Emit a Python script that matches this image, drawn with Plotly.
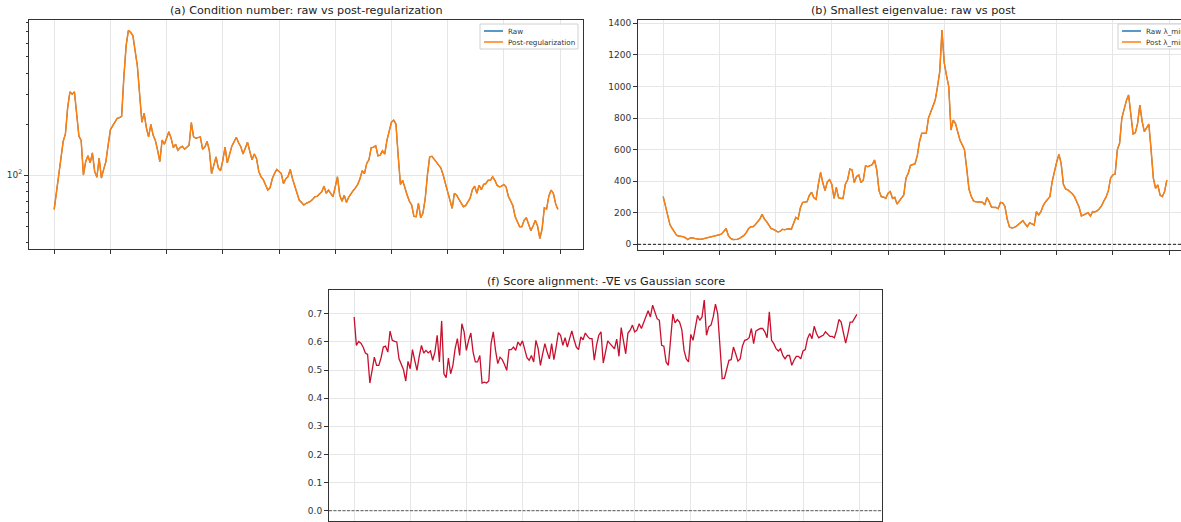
import numpy as np
import plotly.graph_objects as go

W, H = 1181, 522

# (a) condition number after regularization, one value per step (raw coincides with it)
cond_post = [
    62.7, 80, 100, 128, 158, 175, 250, 310, 300, 310, 230, 170, 160, 100, 120,
    130, 118, 135, 105, 97, 126, 96, 108, 120, 150, 185, 195, 205, 216, 218,
    222, 380, 580, 714, 695, 665, 520, 440, 300, 205, 232, 190, 168, 199, 172,
    160, 140, 120, 161, 152, 165, 180, 165, 145, 152, 140, 145, 148, 142, 146,
    150, 204, 168, 165, 166, 168, 142, 146, 158, 140, 102, 117, 128, 110, 106,
    122, 146, 118, 135, 148, 157, 167, 155, 147, 133, 145, 156, 138, 123, 133,
    125, 105, 97.7, 94, 88, 81.5, 84, 95, 102, 108, 105, 102, 89, 95, 98,
    108, 95, 86, 79.7, 71, 69, 66.5, 68, 69, 70, 72, 74.5, 75, 77, 79.7,
    86, 78, 81.5, 78, 74.5, 85, 97.7, 76, 70, 76, 69, 74, 78, 81, 84,
    88, 95, 106, 102, 117, 123, 145, 146, 149, 130, 131, 139, 133, 160, 185,
    205, 211, 200, 130, 88, 93, 83, 76, 70, 66.5, 57, 56.8, 68, 56, 59.4,
    72, 100, 128, 129, 124, 118, 114, 110, 100, 89, 78, 70, 63.6, 78, 76,
    72, 68, 65, 66, 69, 73, 82, 86, 78, 87, 82, 88, 89, 93, 93,
    97.7, 93, 87, 85, 86, 88, 85, 75, 70, 66, 57, 53, 49.5, 49.5, 54,
    56, 51, 47, 50, 54, 50, 42.2, 48, 64, 63, 75, 81.5, 78, 68, 62.7,
]
cond_raw = list(cond_post)

# (b) smallest eigenvalue after regularization (raw coincides with it)
lam_post = [
    302, 240, 185, 125, 100, 75, 57, 52, 50, 48, 40, 30, 40, 42, 37,
    33, 32, 32, 35, 38, 42, 45, 50, 53, 56, 60, 66, 82, 100, 55,
    38, 30, 30, 32, 38, 47, 57, 75, 100, 112, 112, 125, 140, 160, 190,
    160, 144, 120, 100, 95, 85, 78, 82, 95, 92, 96, 99, 95, 140, 170,
    160, 230, 265, 270, 270, 310, 330, 295, 285, 380, 455, 390, 340, 395, 410,
    380, 291, 361, 295, 291, 291, 380, 407, 477, 472, 391, 429, 439, 391, 407,
    498, 492, 498, 505, 534, 471, 340, 302, 300, 291, 323, 334, 291, 298, 255,
    275, 290, 312, 420, 450, 500, 505, 510, 560, 650, 703, 703, 703, 800, 835,
    870, 914, 998, 1094, 1357, 1150, 1070, 1000, 724, 787, 765, 715, 660, 630, 600,
    480, 350, 305, 275, 270, 270, 270, 266, 250, 296, 270, 236, 234, 234, 226,
    266, 262, 240, 160, 110, 104, 106, 114, 125, 133, 150, 129, 112, 137, 129,
    122, 207, 186, 207, 245, 268, 285, 302, 397, 470, 520, 570, 513, 380, 350,
    345, 334, 320, 300, 270, 235, 180, 186, 190, 200, 179, 207, 205, 212, 225,
    245, 275, 300, 340, 420, 440, 445, 600, 640, 800, 860, 910, 946, 809, 699,
    707, 766, 882, 780, 714, 740, 762, 600, 420, 355, 376, 312, 302, 334, 407,
]
lam_raw = list(lam_post)

# (f) cosine alignment between -grad E and the Gaussian score
score_align = [
    0.689, 0.588, 0.602, 0.596, 0.582, 0.561, 0.556, 0.454, 0.499, 0.546, 0.517, 0.517, 0.544, 0.582, 0.585,
    0.564, 0.639, 0.606, 0.602, 0.600, 0.540, 0.517, 0.501, 0.461, 0.531, 0.505, 0.573, 0.535, 0.499, 0.549,
    0.588, 0.561, 0.570, 0.561, 0.568, 0.535, 0.564, 0.624, 0.529, 0.675, 0.487, 0.473, 0.543, 0.487, 0.517,
    0.576, 0.612, 0.552, 0.665, 0.636, 0.570, 0.606, 0.632, 0.564, 0.529, 0.529, 0.552, 0.454, 0.457, 0.454,
    0.461, 0.594, 0.636, 0.570, 0.523, 0.546, 0.537, 0.520, 0.499, 0.573, 0.573, 0.582, 0.570, 0.600, 0.588,
    0.604, 0.570, 0.544, 0.535, 0.552, 0.529, 0.606, 0.576, 0.517, 0.558, 0.594, 0.564, 0.540, 0.594, 0.537,
    0.582, 0.633, 0.624, 0.588, 0.615, 0.582, 0.612, 0.639, 0.608, 0.582, 0.573, 0.618, 0.608, 0.632, 0.620,
    0.612, 0.612, 0.535, 0.588, 0.624, 0.636, 0.525, 0.564, 0.604, 0.594, 0.585, 0.576, 0.610, 0.549, 0.651,
    0.606, 0.558, 0.632, 0.642, 0.660, 0.636, 0.642, 0.665, 0.648, 0.671, 0.692, 0.711, 0.689, 0.731, 0.707,
    0.683, 0.677, 0.588, 0.585, 0.529, 0.517, 0.624, 0.699, 0.668, 0.680, 0.671, 0.644, 0.570, 0.540, 0.529,
    0.627, 0.606, 0.654, 0.695, 0.677, 0.689, 0.749, 0.624, 0.654, 0.660, 0.689, 0.735, 0.700, 0.600, 0.469,
    0.471, 0.508, 0.535, 0.537, 0.582, 0.558, 0.532, 0.540, 0.585, 0.606, 0.608, 0.615, 0.648, 0.594, 0.639,
    0.644, 0.648, 0.648, 0.636, 0.615, 0.707, 0.606, 0.594, 0.576, 0.568, 0.576, 0.552, 0.540, 0.552, 0.552,
    0.517, 0.535, 0.549, 0.549, 0.540, 0.568, 0.573, 0.612, 0.630, 0.612, 0.656, 0.630, 0.615, 0.620, 0.624,
    0.636, 0.627, 0.620, 0.620, 0.615, 0.642, 0.680, 0.671, 0.636, 0.596, 0.630, 0.671, 0.671, 0.683, 0.698,
]

steps = np.arange(len(cond_post))

x_ticks = list(range(0, 226, 25))
b_ticks = [0, 200, 400, 600, 800, 1000, 1200, 1400]
f_ticks = [0.0, 0.1, 0.2, 0.3, 0.4, 0.5, 0.6, 0.7]
a_minor = [40, 50, 60, 70, 80, 90, 200, 300, 400, 500, 600, 700, 800]

BLUE = "#1f77b4"
ORANGE = "#ff7f0e"
RED = "#c8102e"
SPINE = "#333333"
GRID = "#e6e6e6"


def px_x(p):
    return p / W


def px_y(p):
    return 1 - p / H


fig = go.Figure()

# (a)
fig.add_trace(go.Scatter(x=steps, y=cond_raw, mode="lines", name="Raw",
                         line=dict(color=BLUE, width=1.1), xaxis="x", yaxis="y"))
fig.add_trace(go.Scatter(x=steps, y=cond_post, mode="lines", name="Post-regularization",
                         line=dict(color=ORANGE, width=1.5), xaxis="x", yaxis="y"))
# (b)
fig.add_trace(go.Scatter(x=steps, y=lam_raw, mode="lines", name="Raw λ_min",
                         line=dict(color=BLUE, width=1.1), xaxis="x2", yaxis="y2"))
fig.add_trace(go.Scatter(x=steps, y=lam_post, mode="lines", name="Post λ_min",
                         line=dict(color=ORANGE, width=1.5), xaxis="x2", yaxis="y2"))
# (f)
fig.add_trace(go.Scatter(x=steps, y=score_align, mode="lines", name="alignment",
                         line=dict(color=RED, width=1.3), xaxis="x3", yaxis="y3"))

x_common = dict(
    tickmode="array", tickvals=x_ticks, showticklabels=False,
    ticks="outside", ticklen=4, tickwidth=1, tickcolor=SPINE,
    showgrid=True, gridcolor=GRID, gridwidth=1, zeroline=False,
    showline=True, linecolor=SPINE, linewidth=1,
)
y_common = dict(
    ticks="outside", ticklen=4, tickwidth=1, tickcolor=SPINE,
    showgrid=True, gridcolor=GRID, gridwidth=1, zeroline=False,
    showline=True, linecolor=SPINE, linewidth=1,
    tickfont=dict(size=9, color="#333333"),
)

# a full panel is 554 px wide for the range [-11.2, 235.2]; panel (b) runs off the right edge
xr = [-11.2, 235.2]
b_right = -11.2 + (235.2 + 11.2) * (W - 638) / 554.0

fig.update_layout(
    width=W, height=H,
    margin=dict(l=0, r=0, t=0, b=0, autoexpand=False),
    paper_bgcolor="white", plot_bgcolor="white",
    font=dict(family="DejaVu Sans", color="#222222"),
    showlegend=False,
    xaxis=dict(domain=[px_x(29), px_x(583)], range=xr, anchor="y", mirror=True, **x_common),
    yaxis=dict(domain=[px_y(249), px_y(20)], type="log",
               range=[np.log10(36.6), np.log10(822)], anchor="x", mirror=True,
               tickmode="array", tickvals=[100], ticktext=["10<sup>2</sup>"],
               minor=dict(tickmode="array", tickvals=a_minor, ticks="outside",
                          ticklen=2, tickcolor=SPINE, showgrid=False),
               **y_common),
    xaxis2=dict(domain=[px_x(638), 1.0], range=[-11.2, b_right], anchor="y2",
                mirror=True, **x_common),
    yaxis2=dict(domain=[px_y(250), px_y(20)], range=[-36, 1421], anchor="x2",
                mirror=False, tickmode="array", tickvals=b_ticks, **y_common),
    xaxis3=dict(domain=[px_x(329), px_x(882)], range=xr, anchor="y3", mirror=True, **x_common),
    yaxis3=dict(domain=[px_y(521), px_y(290)], range=[-0.037, 0.785], anchor="x3",
                mirror=True, tickmode="array", tickvals=f_ticks,
                ticktext=[f"{v:.1f}" for v in f_ticks], **y_common),
)

# zero reference lines
fig.add_shape(type="line", xref="x2 domain", yref="y2", x0=0, x1=1, y0=0, y1=0,
              line=dict(color="black", width=0.9, dash="3px,2px"))
fig.add_shape(type="line", xref="x3 domain", yref="y3", x0=0, x1=1, y0=0, y1=0,
              line=dict(color="#777777", width=1.3, dash="3px,1.5px"))

# compact legends (box, line samples, labels) in pixel positions
legends = [
    (480, 578, [("Raw", BLUE), ("Post-regularization", ORANGE)]),
    (1118, 1200, [("Raw λ_min", BLUE), ("Post λ_min", ORANGE)]),
]
for left, right, entries in legends:
    fig.add_shape(type="rect", xref="paper", yref="paper",
                  x0=px_x(left), x1=px_x(right), y0=px_y(49), y1=px_y(24),
                  line=dict(color="#d0d0d0", width=1), fillcolor="rgba(255,255,255,0.85)")
    for k, (label, color) in enumerate(entries):
        yy = 31 + 11 * k
        fig.add_shape(type="line", xref="paper", yref="paper",
                      x0=px_x(left + 4), x1=px_x(left + 23), y0=px_y(yy), y1=px_y(yy),
                      line=dict(color=color, width=1.5))
        fig.add_annotation(text=label, xref="paper", yref="paper",
                           x=px_x(left + 26), y=px_y(yy), xanchor="left", yanchor="middle",
                           showarrow=False, font=dict(size=7.2, color="#333333"))

titles = [
    ("(a) Condition number: raw vs post-regularization", 306, 11),
    ("(b) Smallest eigenvalue: raw vs post", 913, 11),
    ("(f) Score alignment: -∇E vs Gaussian score", 606, 281),
]
for text, cx, cy in titles:
    fig.add_annotation(text=text, xref="paper", yref="paper", x=px_x(cx), y=px_y(cy),
                       xanchor="center", yanchor="middle", showarrow=False,
                       font=dict(size=11.2, color="#222222"))

fig.write_html("out.html")
